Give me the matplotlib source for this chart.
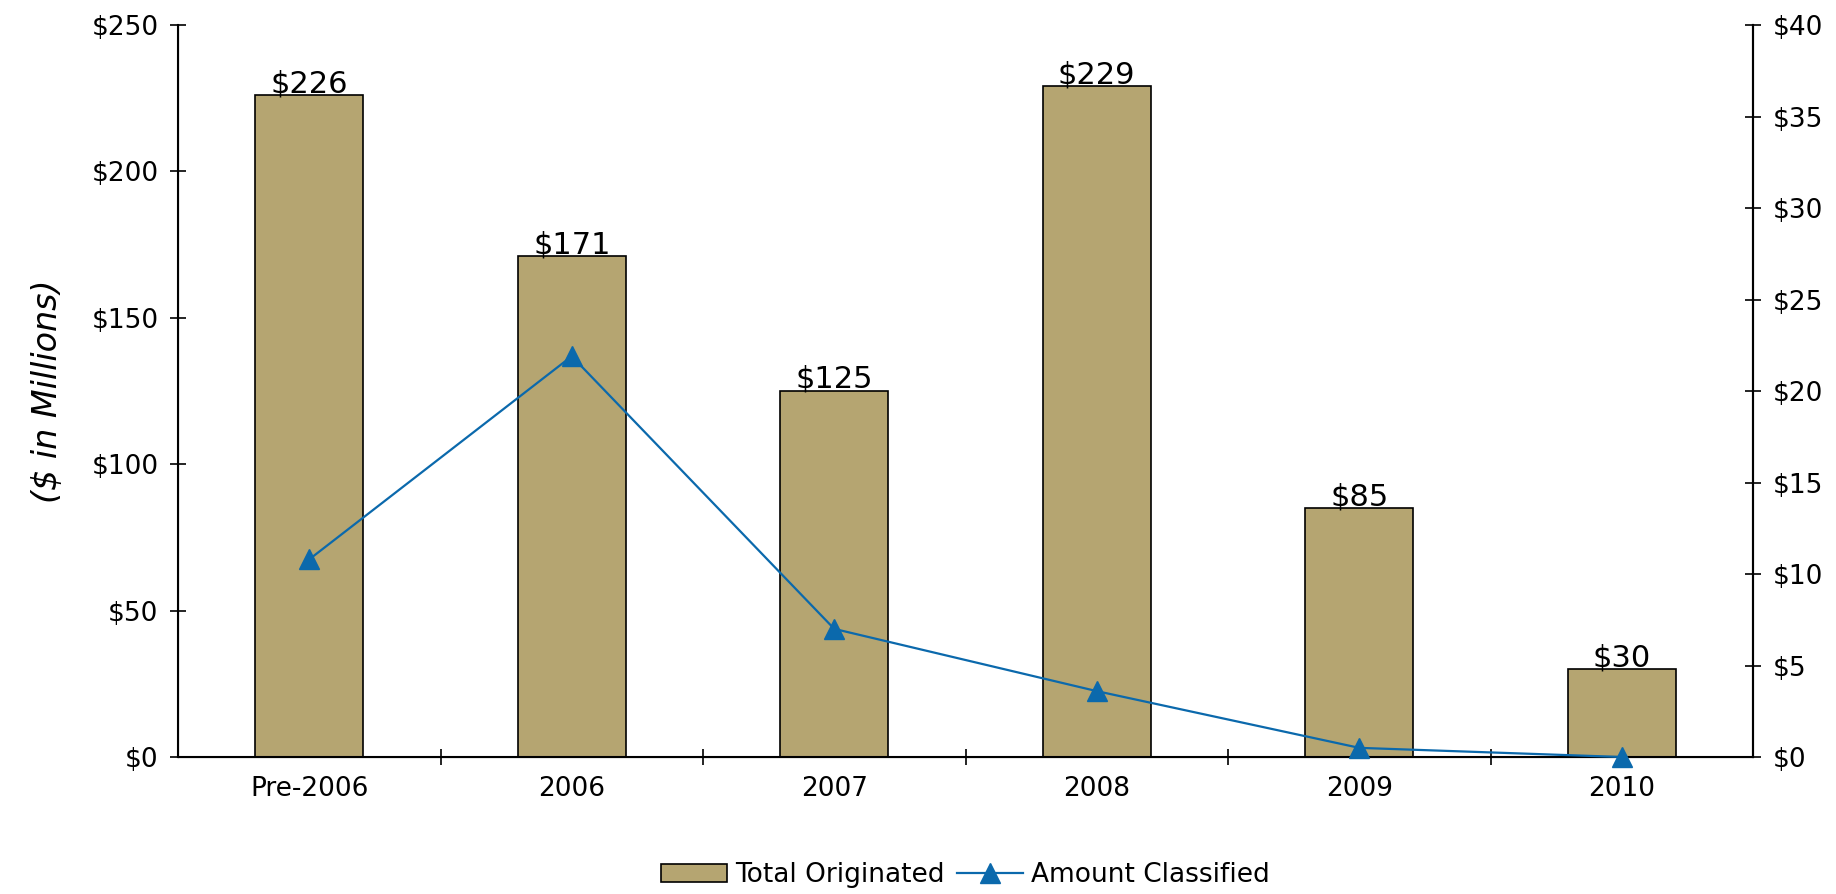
import numpy as np
import matplotlib
matplotlib.use("Agg")
import matplotlib.pyplot as plt
from matplotlib.ticker import FuncFormatter

categories = ["Pre-2006", "2006", "2007", "2008", "2009", "2010"]
total_originated = [226, 171, 125, 229, 85, 30]
amount_classified = [10.8, 21.9, 7.0, 3.6, 0.5, 0.0]

BAR_COLOR = "#B5A571"
LINE_COLOR = "#0B69AC"

plt.rcParams['font.family'] = ['DejaVu Sans']

fig = plt.figure(figsize=(18.36, 8.94), dpi=100)
ax = fig.add_axes([178 / 1836, 1 - 757 / 894, (1753 - 178) / 1836, (757 - 25) / 894])
x = np.arange(len(categories))

bars = ax.bar(x, total_originated, width=0.41, color=BAR_COLOR, edgecolor="black",
              linewidth=1.2, label="Total Originated", zorder=2)
for xi, v in zip(x, total_originated):
    ax.text(xi, v - 1, f"${v}", ha="center", va="bottom", fontsize=22)

ax.set_xlim(-0.5, len(categories) - 0.5)
ax.set_ylim(0, 250)
ax.set_yticks(np.arange(0, 251, 50))
ax.yaxis.set_major_formatter(FuncFormatter(lambda v, p: f"${v:.0f}"))
ax.set_xticks(x)
ax.set_xticklabels(categories)
ax.set_xticks(np.arange(0.5, len(categories) - 0.5, 1), minor=True)
ax.tick_params(axis="x", which="major", length=0, labelsize=19, pad=14)
ax.tick_params(axis="x", which="minor", length=12, direction="inout", width=1.2)
ax.tick_params(axis="y", length=12, direction="inout", width=1.2, labelsize=19, pad=8)
ax.set_ylabel("($ in Millions)", fontsize=24, style="italic", labelpad=20)
ax.spines["top"].set_visible(False)
for s in ["left", "bottom", "right"]:
    ax.spines[s].set_linewidth(1.5)

ax2 = ax.twinx()
line, = ax2.plot(x, amount_classified, color=LINE_COLOR, marker="^", markersize=15,
                 linewidth=1.6, label="Amount Classified", zorder=3, clip_on=False)
ax2.set_ylim(0, 40)
ax2.set_yticks(np.arange(0, 41, 5))
ax2.yaxis.set_major_formatter(FuncFormatter(lambda v, p: f"${v:.0f}"))
ax2.tick_params(axis="y", length=12, direction="inout", width=1.2, labelsize=19, pad=8)
ax2.spines["top"].set_visible(False)
ax2.spines["right"].set_linewidth(1.5)

fig.legend([bars, line], ["Total Originated", "Amount Classified"], loc="center",
           bbox_to_anchor=((178 + 1753) / 2 / 1836, 1 - 875 / 894), ncol=2, frameon=False,
           fontsize=19, handlelength=2.5, columnspacing=0.5, handletextpad=0.3)

fig.savefig("out.png", dpi=100)
